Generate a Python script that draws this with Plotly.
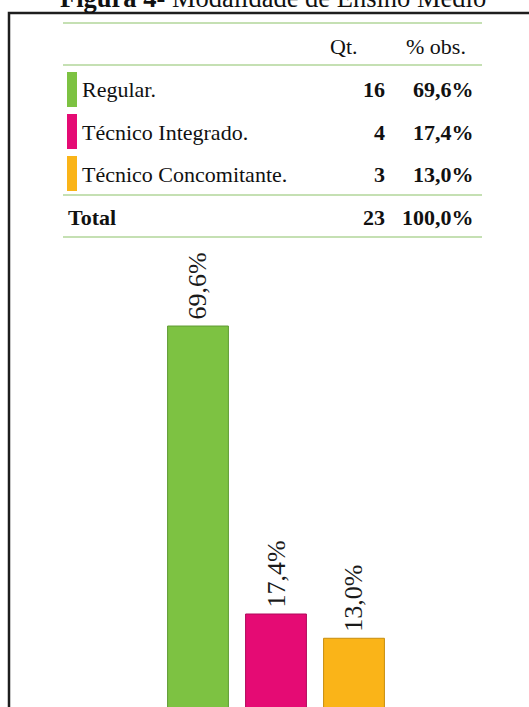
import plotly.graph_objects as go

# dados
categorias = ["Regular.", "Técnico Integrado.", "Técnico Concomitante."]
quantidades = [16, 4, 3]
percentuais = [69.6, 17.4, 13.0]
rotulos_pct = ["69,6%", "17,4%", "13,0%"]
total_qt = 23
total_pct = "100,0%"
cores = ["#7dc242", "#e50b74", "#fab418"]
bordas = ["#5f9b33", "#b0085a", "#c78d0e"]

W, H = 529, 707
SERIF = "Liberation Serif, Times New Roman, serif"


def px(x):
    return x / W


def py(y):
    return 1 - y / H


fig = go.Figure()

fig.add_trace(go.Bar(
    x=list(range(len(categorias))),
    y=percentuais,
    marker=dict(color=cores, line=dict(color=bordas, width=1)),
    width=0.78,
    hoverinfo="skip",
    showlegend=False,
))

# rótulos das barras (rotacionados)
annotations = []
for i, (v, t) in enumerate(zip(percentuais, rotulos_pct)):
    annotations.append(dict(
        x=i, y=v, xref="x", yref="y", text=t, textangle=-90,
        showarrow=False, xanchor="center", yanchor="bottom", yshift=4,
        font=dict(family=SERIF, size=26, color="#1a1a1a"),
    ))

# título (cortado no topo, como na figura original)
annotations.append(dict(
    x=px(273), y=py(-2), xref="paper", yref="paper",
    text="<b>Figura 4-</b> Modalidade de Ensino Médio",
    showarrow=False, xanchor="center", yanchor="middle",
    font=dict(family=SERIF, size=26.5, color="#111"),
))

# tabela
cab_y = 46
linhas_y = [90, 132, 174]
total_y = 217
annotations.append(dict(x=px(360), y=py(cab_y), xref="paper", yref="paper", text="Qt.",
                        showarrow=False, xanchor="right", yanchor="middle",
                        font=dict(family=SERIF, size=22, color="#111")))
annotations.append(dict(x=px(468), y=py(cab_y), xref="paper", yref="paper", text="% obs.",
                        showarrow=False, xanchor="right", yanchor="middle",
                        font=dict(family=SERIF, size=22, color="#111")))

shapes = []
for cat, q, p, c, yy in zip(categorias, quantidades, rotulos_pct, cores, linhas_y):
    annotations.append(dict(x=px(80), y=py(yy), xref="paper", yref="paper", text=cat,
                            showarrow=False, xanchor="left", yanchor="middle",
                            font=dict(family=SERIF, size=22, color="#111")))
    annotations.append(dict(x=px(387), y=py(yy), xref="paper", yref="paper", text=f"<b>{q}</b>",
                            showarrow=False, xanchor="right", yanchor="middle",
                            font=dict(family=SERIF, size=22, color="#111")))
    annotations.append(dict(x=px(476), y=py(yy), xref="paper", yref="paper", text=f"<b>{p}</b>",
                            showarrow=False, xanchor="right", yanchor="middle",
                            font=dict(family=SERIF, size=22, color="#111")))
    shapes.append(dict(type="rect", xref="paper", yref="paper",
                       x0=px(67), x1=px(77), y0=py(yy + 17), y1=py(yy - 18),
                       fillcolor=c, line=dict(width=0)))

annotations.append(dict(x=px(66), y=py(total_y), xref="paper", yref="paper", text="<b>Total</b>",
                        showarrow=False, xanchor="left", yanchor="middle",
                        font=dict(family=SERIF, size=22, color="#111")))
annotations.append(dict(x=px(387), y=py(total_y), xref="paper", yref="paper", text=f"<b>{total_qt}</b>",
                        showarrow=False, xanchor="right", yanchor="middle",
                        font=dict(family=SERIF, size=22, color="#111")))
annotations.append(dict(x=px(476), y=py(total_y), xref="paper", yref="paper", text=f"<b>{total_pct}</b>",
                        showarrow=False, xanchor="right", yanchor="middle",
                        font=dict(family=SERIF, size=22, color="#111")))

# linhas verdes da tabela
for yy in [23, 65, 195, 237]:
    shapes.append(dict(type="line", xref="paper", yref="paper",
                       x0=px(63), x1=px(482), y0=py(yy), y1=py(yy),
                       line=dict(color="#c5e0b3", width=2)))

# moldura
shapes.append(dict(type="rect", xref="paper", yref="paper",
                   x0=px(9), x1=1.1, y0=-0.1, y1=py(13),
                   line=dict(color="#1e1e1e", width=2.5), fillcolor="rgba(0,0,0,0)"))

# escala: 0 fica 3px abaixo da borda inferior, ~5.52 px por ponto percentual
k = 5.517
fig.update_layout(
    width=W, height=H,
    margin=dict(l=0, r=0, t=0, b=0),
    paper_bgcolor="white", plot_bgcolor="white",
    xaxis=dict(range=[-198 / 78, -198 / 78 + W / 78], visible=False, fixedrange=True),
    yaxis=dict(range=[3 / k, 3 / k + H / k], visible=False, fixedrange=True),
    annotations=annotations,
    shapes=shapes,
    bargap=0.22,
)

fig.write_html(
    "out.html",
    config={"displayModeBar": False},
    post_script="document.body.style.margin='0';document.body.style.overflow='hidden';",
)
